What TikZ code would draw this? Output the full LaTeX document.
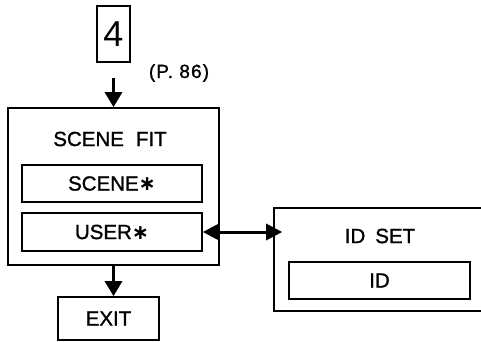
\documentclass[tikz,border=0pt]{standalone}
\usepackage{fontspec}
\setmainfont[FakeBold=1.2]{Liberation Sans}
\newfontfamily\symfont{DejaVu Sans}
\newfontfamily\thinfont{Liberation Sans}
\usetikzlibrary{arrows.meta}
\tikzset{
	boxstyle/.style={rectangle,draw=black,line width=1.6pt,inner sep=0pt},
	labelstyle/.style={font=\fontsize{20.5}{24}\selectfont},
	flowarrow/.style={line width=3pt,-{Triangle[width=17pt,length=15pt]}},
	botharrow/.style={line width=3pt,{Triangle[width=16pt,length=16pt]}-{Triangle[width=16pt,length=16pt]}}
}
\newcommand{\astmark}{{\symfont\bfseries ∗}}
\begin{document}
\begin{tikzpicture}[x=1pt,y=-1pt]
	\useasboundingbox (0,0) rectangle (481,342);
	\node[boxstyle,minimum width=33,minimum height=56,font=\thinfont\fontsize{36}{40}\selectfont] (four) at (113.5,34) {4};
	\node[font=\fontsize{19}{22}\selectfont\addfontfeatures{LetterSpace=6}] (page) at (179,73) {(P.\ 86)};
	\node[boxstyle,minimum width=211,minimum height=157] (fit) at (113.5,186.5) {};
	\node[labelstyle] (fittitle) at (110,139) {SCENE\hspace{12pt}FIT};
	\node[boxstyle,labelstyle,minimum width=180,minimum height=37] (scene) at (112,183.5) {SCENE\astmark};
	\node[boxstyle,labelstyle,minimum width=180,minimum height=38] (user) at (112,232) {USER\astmark};
	\node[boxstyle,minimum width=216,minimum height=103] (idset) at (382,259.5) {};
	\node[labelstyle] (idtitle) at (380,236) {ID\hspace{10pt}SET};
	\node[boxstyle,labelstyle,minimum width=181,minimum height=37] (id) at (379.5,280.5) {ID};
	\node[boxstyle,labelstyle,minimum width=101,minimum height=43] (exit) at (108.5,318.5) {EXIT};
	\coordinate (start) at (113.5,78);
	\draw[flowarrow] (start) -- (fit.north);
	\draw[flowarrow] (fit.south) -- (fit.south |- exit.north);
	\draw[botharrow,shorten >=-9pt] (user.east) -- (idset.west |- user.east);
\end{tikzpicture}
\end{document}
